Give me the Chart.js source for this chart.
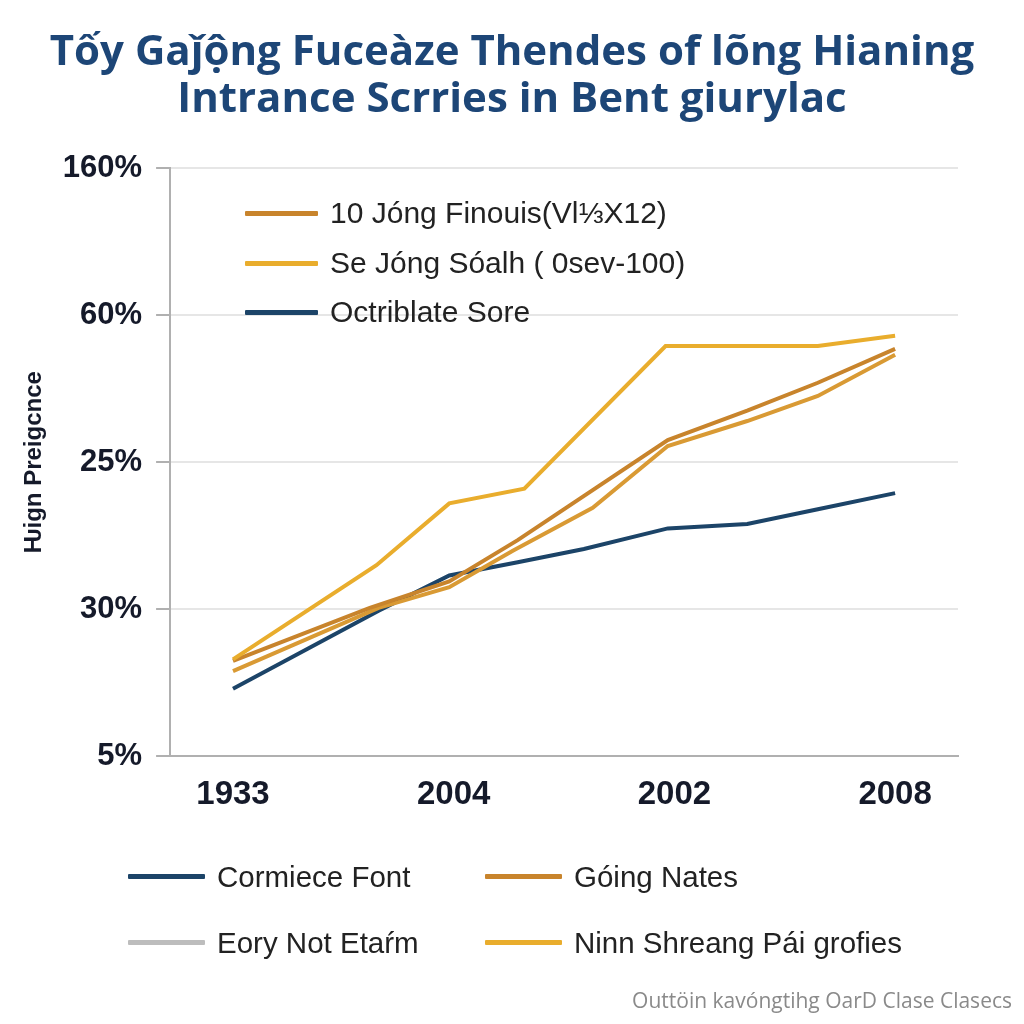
<!DOCTYPE html>
<html>
<head>
<meta charset="utf-8">
<script src="https://cdn.jsdelivr.net/npm/chart.js@4/dist/chart.umd.min.js"></script>
<style>
  html, body { margin: 0; padding: 0; background: #ffffff; }
  #wrap { position: relative; width: 1024px; height: 1024px; background: #ffffff; }
  #c { position: absolute; left: 0; top: 0; }
  #title { position: absolute; left: 0; width: 1024px; top: 25px; text-align: center; font-family: "Open Sans", "Noto Sans", sans-serif; font-weight: bold; font-size: 42px; line-height: 47px; color: #1d4677; white-space: nowrap; }
  .leg { position: absolute; display: flex; align-items: center; font-family: "Liberation Sans", Arial, sans-serif; color: #222; white-space: nowrap; }
  .sw { display: inline-block; height: 5px; border-radius: 1px; }
  #footer { position: absolute; right: 12px; top: 986px; font-family: "Open Sans", "Noto Sans", sans-serif; font-size: 21px; color: #8a8a8a; white-space: nowrap; }
</style>
</head>
<body>
<div id="wrap">
  <canvas id="c" width="1024" height="1024"></canvas>
  <div id="title"></div>
  <div id="legends"></div>
  <div id="footer"></div>
</div>
<script>
// ---------- data ----------
const titleLines = ["Tốy Gaǰộng Fuceàze Thendes of lõng Hianing", "Intrance Scrries in Bent giurylac"];
const yAxisTitle = "Ƕign Preigcnce";
const xTickLabels = ["1933", "2004", "2002", "2008"];
const yTickLabels = ["5%", "30%", "25%", "60%", "160%"];
const footerText = "Outtöin kavóngtihg OarD Clase Clasecs";

// series: x positions (in year-slot units) and values (in axis-step units)
const yellowX = [0, 0.65, 0.98, 1.32, 1.96, 2.65, 3.0];
const yellowY = [0.66, 1.30, 1.72, 1.82, 2.79, 2.79, 2.86];

const orangeX = [0, 0.62, 0.98, 1.29, 1.97, 2.33, 2.65, 3.0];
const orangeY = [0.65, 1.01, 1.19, 1.47, 2.15, 2.35, 2.54, 2.77];

const amberX = [0, 0.66, 0.98, 1.27, 1.63, 1.97, 2.33, 2.65, 3.0];
const amberY = [0.58, 1.01, 1.15, 1.40, 1.69, 2.11, 2.28, 2.45, 2.73];

const navyX = [0, 0.66, 0.98, 1.29, 1.59, 1.97, 2.33, 2.65, 3.0];
const navyY = [0.46, 0.99, 1.23, 1.32, 1.41, 1.55, 1.58, 1.68, 1.79];

const topLegendLabels = ["10 Jóng Finouis(Vl⅓X12)", "Se Jóng Sóalh ( 0sev-100)", "Octriblate Sore"];
const bottomLegendLabels = ["Cormiece Font", "Góing Nates", "Eory Not Etaŕm", "Ninn Shreang Pái grofies"];

// ---------- styles ----------
const C_NAVY = "#1c4468";
const C_ORANGE = "#c8842c";
const C_AMBER = "#d99a34";
const C_YELLOW = "#e9ad2d";
const C_GRAY = "#bdbdbd";

function pts(xs, ys) { return xs.map((x, i) => ({ x: x, y: ys[i] })); }

const ds = (label, xs, ys, color) => ({
  label: label, data: pts(xs, ys), borderColor: color, backgroundColor: color,
  borderWidth: 4, pointRadius: 0, tension: 0, fill: false
});

const ctx = document.getElementById('c').getContext('2d');
new Chart(ctx, {
  type: 'line',
  data: {
    datasets: [
      ds(topLegendLabels[1], yellowX, yellowY, C_YELLOW),
      ds(topLegendLabels[0], orangeX, orangeY, C_ORANGE),
      ds(bottomLegendLabels[1], amberX, amberY, C_AMBER),
      ds(topLegendLabels[2], navyX, navyY, C_NAVY)
    ]
  },
  options: {
    responsive: false,
    animation: false,
    layout: { padding: { left: 20, right: 66, top: 168, bottom: 190 } },
    plugins: {
      legend: { display: false },
      tooltip: { enabled: false },
      title: { display: false }
    },
    scales: {
      x: {
        type: 'linear',
        min: -0.285, max: 3.285,
        afterBuildTicks: (axis) => { axis.ticks = [0, 1, 2, 3].map(v => ({ value: v })); },
        ticks: {
          callback: (v) => xTickLabels[v] ?? '',
          color: "#151a2a",
          font: { family: "'Liberation Sans', Arial, sans-serif", size: 33, weight: 'bold' },
          padding: 19, maxRotation: 0, autoSkip: false
        },
        grid: { display: false, drawTicks: false },
        border: { display: true, color: "#b0b0b0", width: 2 }
      },
      y: {
        min: 0, max: 4,
        afterBuildTicks: (axis) => { axis.ticks = [0, 1, 2, 3, 4].map(v => ({ value: v })); },
        ticks: {
          callback: (v) => yTickLabels[v] ?? '',
          color: "#151a2a",
          font: { family: "'Liberation Sans', Arial, sans-serif", size: 31, weight: 'bold' },
          padding: 14
        },
        grid: { color: "#e6e6e6", lineWidth: 2, tickLength: 14, tickColor: "#b0b0b0", tickWidth: 2 },
        border: { display: true, color: "#b0b0b0", width: 2 },
        title: {
          display: true, text: yAxisTitle, color: "#151a2a",
          font: { family: "'Liberation Sans', Arial, sans-serif", size: 24, weight: 'bold' },
          padding: { top: 0, bottom: 0 }
        }
      }
    }
  }
});

document.getElementById('title').innerHTML = titleLines.join('<br>');
document.getElementById('footer').textContent = footerText;

// ---------- HTML legends ----------
const legendsEl = document.getElementById('legends');
function addLeg(left, cy, swW, color, text, fontSize, gap) {
  const d = document.createElement('div');
  d.className = 'leg';
  d.style.left = left + 'px';
  d.style.top = (cy - fontSize * 0.65) + 'px';
  d.style.height = (fontSize * 1.3) + 'px';
  d.style.fontSize = fontSize + 'px';
  const s = document.createElement('span');
  s.className = 'sw';
  s.style.width = swW + 'px';
  s.style.background = color;
  s.style.marginRight = gap + 'px';
  d.appendChild(s);
  d.appendChild(document.createTextNode(text));
  legendsEl.appendChild(d);
}
const topColors = [C_ORANGE, C_YELLOW, C_NAVY];
const topRows = [213, 263, 312];
topLegendLabels.forEach((t, i) => addLeg(245, topRows[i], 73, topColors[i], t, 30, 12));

const botColors = [C_NAVY, C_ORANGE, C_GRAY, C_YELLOW];
const botPos = [[128, 877], [485, 877], [128, 943], [485, 943]];
bottomLegendLabels.forEach((t, i) => addLeg(botPos[i][0], botPos[i][1], 77, botColors[i], t, 29.5, 12));
</script>
</body>
</html>
